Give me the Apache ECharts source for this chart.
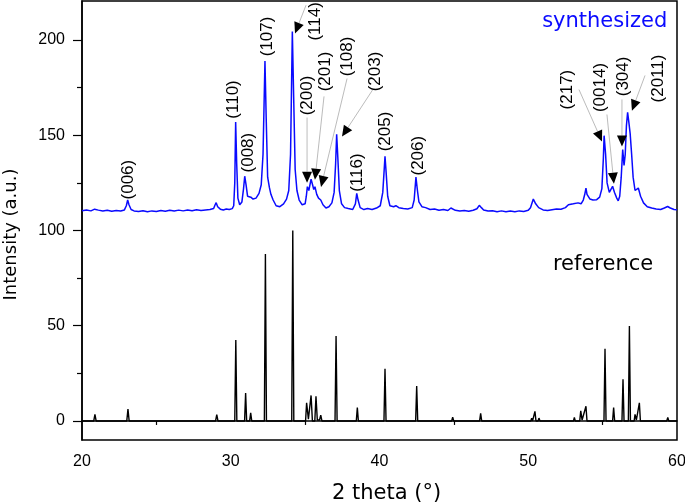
<!DOCTYPE html>
<html>
<head>
<meta charset="utf-8">
<script src="https://cdn.jsdelivr.net/npm/echarts@6.0.0/dist/echarts.min.js"></script>
<style>
    html, body { margin: 0; padding: 0; background: #fff; }
    #chart { width: 685px; height: 503px; }
</style>
</head>
<body>
<div id="chart"></div>
<script>
// measured pattern of the synthesized sample: [2 theta, intensity]
const synthesized = [
    [20.0, 110.4], [20.3, 110.8], [20.6, 110.3], [20.85, 111.2], [20.95, 111.6], [21.1, 110.7], [21.4, 110.2],
    [21.7, 110.6], [22.0, 110.1], [22.3, 110.5], [22.6, 110.2], [22.85, 110.8], [22.98, 113.0], [23.07, 116.0],
    [23.16, 113.5], [23.3, 111.0], [23.5, 110.3], [23.8, 110.0], [24.1, 110.4], [24.4, 109.9], [24.7, 110.3],
    [25.0, 110.0], [25.3, 110.5], [25.6, 110.1], [25.9, 110.6], [26.2, 110.2], [26.5, 110.7], [26.8, 110.3],
    [27.1, 110.8], [27.4, 110.4], [27.7, 110.9], [28.0, 110.5], [28.3, 110.8], [28.6, 111.0], [28.85, 111.5],
    [28.95, 113.5], [29.02, 114.6], [29.12, 112.5], [29.3, 111.2], [29.5, 110.8], [29.7, 111.3], [29.9, 111.0],
    [30.1, 111.5], [30.2, 113.0], [30.27, 125.0], [30.33, 157.0], [30.4, 135.0], [30.48, 117.0], [30.6, 113.5],
    [30.75, 115.0], [30.86, 122.0], [30.94, 128.5], [31.03, 124.0], [31.13, 118.0], [31.25, 119.0], [31.35, 117.5],
    [31.5, 116.5], [31.7, 117.0], [31.9, 119.5], [32.05, 124.0], [32.17, 140.0], [32.3, 189.0], [32.38, 160.0],
    [32.48, 128.0], [32.6, 122.5], [32.7, 119.0], [32.85, 116.0], [33.05, 113.0], [33.3, 112.5], [33.55, 114.0],
    [33.75, 116.5], [33.9, 121.0], [34.02, 140.0], [34.14, 204.5], [34.23, 170.0], [34.33, 132.0], [34.45, 121.0],
    [34.6, 116.0], [34.8, 113.5], [35.0, 114.0], [35.08, 118.0], [35.15, 123.0], [35.25, 121.0], [35.32, 120.0],
    [35.4, 127.0], [35.5, 124.0], [35.58, 121.5], [35.66, 123.0], [35.78, 119.0], [35.9, 117.0], [36.05, 116.0],
    [36.2, 113.5], [36.4, 111.8], [36.6, 112.5], [36.8, 114.5], [36.95, 120.0], [37.05, 135.0], [37.12, 150.5],
    [37.2, 138.0], [37.3, 121.0], [37.45, 114.0], [37.65, 112.0], [37.9, 111.5], [38.2, 111.0], [38.38, 114.0],
    [38.47, 119.5], [38.56, 116.0], [38.7, 112.0], [38.95, 111.0], [39.2, 111.5], [39.5, 111.0], [39.8, 111.8],
    [40.05, 113.0], [40.22, 120.0], [40.3, 130.0], [40.37, 139.0], [40.45, 130.0], [40.55, 118.0], [40.7, 113.0],
    [40.95, 112.5], [41.1, 113.0], [41.3, 112.0], [41.6, 111.5], [41.9, 111.3], [42.2, 112.0], [42.33, 116.0],
    [42.45, 128.0], [42.55, 121.0], [42.65, 115.0], [42.85, 112.5], [43.1, 112.0], [43.4, 111.0], [43.7, 111.3],
    [44.0, 110.6], [44.3, 111.0], [44.6, 110.5], [44.8, 111.8], [44.9, 111.2], [45.1, 110.6], [45.4, 110.2],
    [45.7, 110.5], [46.0, 110.1], [46.3, 110.6], [46.55, 111.4], [46.71, 113.2], [46.85, 112.0], [47.0, 110.8],
    [47.3, 110.2], [47.6, 110.4], [47.9, 109.9], [48.2, 110.3], [48.5, 109.8], [48.8, 110.2], [49.1, 109.9],
    [49.4, 110.3], [49.7, 110.0], [50.0, 110.6], [50.15, 112.0], [50.34, 116.5], [50.5, 114.0], [50.7, 112.0],
    [51.0, 110.8], [51.3, 110.5], [51.6, 110.9], [51.9, 111.3], [52.2, 111.2], [52.5, 112.0], [52.7, 113.5],
    [52.8, 112.5], [53.03, 114.0], [53.15, 113.0], [53.35, 114.5], [53.55, 114.0], [53.7, 116.0], [53.8, 119.0],
    [53.88, 122.3], [53.95, 119.0], [54.03, 119.5], [54.15, 116.5], [54.35, 116.0], [54.6, 116.2], [54.8, 117.5],
    [54.95, 122.0], [55.05, 138.0], [55.1, 149.8], [55.2, 140.0], [55.3, 125.0], [55.45, 120.0], [55.55, 121.5],
    [55.67, 123.2], [55.8, 120.0], [55.95, 117.0], [56.05, 115.6], [56.15, 118.0], [56.25, 128.0], [56.35, 142.5],
    [56.44, 134.2], [56.52, 140.0], [56.6, 155.0], [56.68, 162.1], [56.76, 157.0], [56.85, 151.0], [56.95, 140.0],
    [57.05, 128.0], [57.18, 121.0], [57.28, 120.5], [57.4, 122.3], [57.55, 118.0], [57.75, 114.5], [58.0, 112.5],
    [58.3, 111.8], [58.6, 111.3], [58.9, 111.0], [59.15, 111.8], [59.37, 112.6], [59.55, 111.8], [59.8, 111.0],
    [60.0, 110.9],
];

// reference card pattern: [2 theta, intensity]
const reference = [
    [20.0, 0], [20.79, 0], [20.87, 3.5], [20.95, 0], [23.01, 0], [23.09, 6.3], [23.17, 0], [25.96, 0], [26.03, 0.8],
    [26.1, 0], [28.98, 0], [29.06, 3.3], [29.14, 0], [30.27, 0], [30.34, 42.5], [30.41, 0], [30.93, 0], [31.0, 14.7],
    [31.07, 0], [31.27, 0], [31.34, 4.2], [31.41, 0], [32.26, 0], [32.33, 87.7], [32.4, 0], [34.1, 0], [34.17, 100],
    [34.24, 0], [35.03, 0], [35.1, 9.5], [35.22, 1.0], [35.4, 13.4], [35.49, 0], [35.65, 0], [35.73, 13.0],
    [35.82, 0.5], [35.97, 0.5], [36.05, 3.0], [36.13, 0], [37.01, 0], [37.08, 44.6], [37.15, 0], [38.44, 0],
    [38.51, 7.0], [38.58, 0], [39.26, 0], [39.32, 1.0], [39.38, 0], [40.3, 0], [40.37, 27.4], [40.44, 0],
    [42.43, 0], [42.5, 18.3], [42.57, 0], [43.0, 0], [43.06, 0.4], [43.12, 0], [43.9, 0], [43.95, 0.3], [44.0, 0],
    [44.85, 0], [44.92, 2.0], [44.99, 0], [46.73, 0], [46.8, 4.0], [46.87, 0], [47.52, 0], [47.58, 0.8], [47.64, 0],
    [49.85, 0], [49.9, 0.3], [49.95, 0], [50.17, 0], [50.23, 1.5], [50.29, 0], [50.38, 0], [50.45, 5.0], [50.52, 0],
    [50.66, 0], [50.72, 1.5], [50.79, 0], [53.04, 0], [53.1, 1.8], [53.16, 0], [53.46, 0], [53.53, 5.3], [53.62, 0.5],
    [53.88, 7.7], [53.95, 0], [54.43, 0], [54.49, 1.0], [54.55, 0], [55.09, 0], [55.16, 37.9], [55.23, 0],
    [55.67, 0], [55.74, 7.0], [55.81, 0], [56.3, 0], [56.37, 21.9], [56.44, 0], [56.73, 0], [56.8, 49.8],
    [56.87, 0], [57.12, 0], [57.18, 3.5], [57.27, 0.5], [57.47, 9.5], [57.54, 0], [58.81, 0], [58.86, 0.5],
    [58.91, 0], [59.31, 0], [59.38, 1.8], [59.45, 0], [60.0, 0],
];

const xLabels = [20, 30, 40, 50, 60];
const xMinorTicks = [25, 35, 45, 55];
const yLabels = [0, 50, 100, 150, 200];
const yMinorTicks = [25, 75, 125, 175];

// peak labels (Miller indices), placed at [2 theta, intensity]
const hklNames = ["(006)", "(110)", "(008)", "(107)", "(114)", "(200)", "(201)", "(108)", "(203)", "(116)", "(205)", "(206)", "(217)", "(0014)", "(304)", "(2011)"];
const hklLabelAt = [
    [23.09, 126.7], [30.15, 168.8], [31.16, 140.9], [32.44, 201.9], [35.66, 209.8], [35.13, 170.9], [36.34, 183.5],
    [37.82, 191.4], [39.7, 183.5], [38.49, 130.4], [40.37, 152.0], [42.59, 139.3], [52.6, 174.0], [54.82, 175.1],
    [56.37, 180.9], [58.72, 179.8],
];
// leader arrows: from -> tip
const arrowFrom = [[35.06, 218.3], [35.13, 159.3], [36.27, 170.4], [37.82, 179.8], [39.56, 174.1], [53.41, 174.0], [55.29, 160.9], [56.3, 168.8], [57.85, 181.4]];
const arrowTo = [[34.32, 203.5], [35.13, 125.1], [35.66, 126.7], [36.07, 122.9], [37.48, 149.3], [54.96, 146.7], [55.76, 124.6], [56.3, 144.1], [56.97, 162.9]];

const seriesNames = ["synthesized", "reference"];
const seriesNameAt = [[59.35, 209.8], [58.4, 81.9]];

const chart = echarts.init(document.getElementById("chart"));

const yBase = {
    type: "value",
    min: -10,
    max: 220.5,
    position: "left",
    splitLine: { show: false },
};

const option = {
    animation: false,
    grid: {
        left: 82,
        right: 8,
        top: 1,
        bottom: 63,
        containLabel: false,
        outerBoundsMode: "none",
        show: true,
        borderColor: "#000",
        borderWidth: 1.5,
    },
    xAxis: {
        type: "value",
        min: 20,
        max: 60,
        interval: 10,
        name: "2 theta (°)",
        nameLocation: "middle",
        nameGap: 43,
        nameTextStyle: { fontFamily: "DejaVu Sans", fontSize: 21, color: "#000", padding: [0, 0, 0, 14] },
        axisLine: { lineStyle: { color: "#000", width: 1.5 } },
        axisTick: { show: true, length: 4, customValues: xMinorTicks, lineStyle: { color: "#000", width: 1.2 } },
        axisLabel: { customValues: xLabels, margin: 14, fontFamily: "Liberation Sans", fontSize: 16, color: "#000" },
        splitLine: { show: false },
    },
    yAxis: [
        Object.assign({}, yBase, {
            name: "Intensity (a.u.)",
            nameLocation: "middle",
            nameGap: 62,
            nameTextStyle: { fontFamily: "DejaVu Sans", fontSize: 18, color: "#000", padding: [0, 28, 0, 0] },
            axisLine: { show: true, lineStyle: { color: "#000", width: 1.5 } },
            axisTick: { show: true, length: 9, customValues: yLabels, lineStyle: { color: "#000", width: 1.2 } },
            axisLabel: { customValues: yLabels, margin: 17, fontFamily: "Liberation Sans", fontSize: 16, color: "#000" },
        }),
        Object.assign({}, yBase, {
            axisLine: { show: false },
            axisTick: { show: true, length: 5, customValues: yMinorTicks, lineStyle: { color: "#000", width: 1.2 } },
            axisLabel: { show: false },
        }),
    ],
    series: [
        {
            name: seriesNames[0],
            type: "line",
            data: synthesized,
            symbol: "none",
            lineStyle: { color: "#0a0aff", width: 1.5 },
            z: 3,
        },
        {
            name: seriesNames[1],
            type: "line",
            data: reference,
            symbol: "none",
            lineStyle: { color: "#000", width: 1.4 },
            z: 2,
        },
    ],
};

chart.setOption(option);

// annotations, positioned through the axes
function toPx(p) {
    return chart.convertToPixel({ seriesIndex: 0 }, p);
}

const graphics = [];

hklNames.forEach((name, i) => {
    const p = toPx(hklLabelAt[i]);
    graphics.push({
        type: "text",
        x: p[0],
        y: p[1],
        rotation: Math.PI / 2,
        z: 10,
        style: {
            text: name,
            font: '17px "Liberation Sans"',
            fill: "#000",
            align: "center",
            verticalAlign: "middle",
        },
    });
});

arrowFrom.forEach((from, i) => {
    const a = toPx(from);
    const b = toPx(arrowTo[i]);
    const dx = b[0] - a[0];
    const dy = b[1] - a[1];
    const len = Math.sqrt(dx * dx + dy * dy);
    const ux = dx / len;
    const uy = dy / len;
    const headLen = 11;
    const headHalf = 5;
    const bx = b[0] - ux * headLen;
    const by = b[1] - uy * headLen;
    graphics.push({
        type: "line",
        z: 9,
        shape: { x1: a[0], y1: a[1], x2: bx, y2: by },
        style: { stroke: "#aaa", lineWidth: 0.8 },
    });
    graphics.push({
        type: "polygon",
        z: 10,
        shape: {
            points: [
                [b[0], b[1]],
                [bx - uy * headHalf, by + ux * headHalf],
                [bx + uy * headHalf, by - ux * headHalf],
            ],
        },
        style: { fill: "#000" },
    });
});

const nameColors = ["#0a0aff", "#000"];
seriesNames.forEach((name, i) => {
    const p = toPx(seriesNameAt[i]);
    graphics.push({
        type: "text",
        x: p[0],
        y: p[1],
        z: 10,
        style: {
            text: name,
            font: '21px "DejaVu Sans"',
            fill: nameColors[i],
            align: "right",
            verticalAlign: "middle",
        },
    });
});

chart.setOption({ graphic: graphics });
</script>
</body>
</html>
